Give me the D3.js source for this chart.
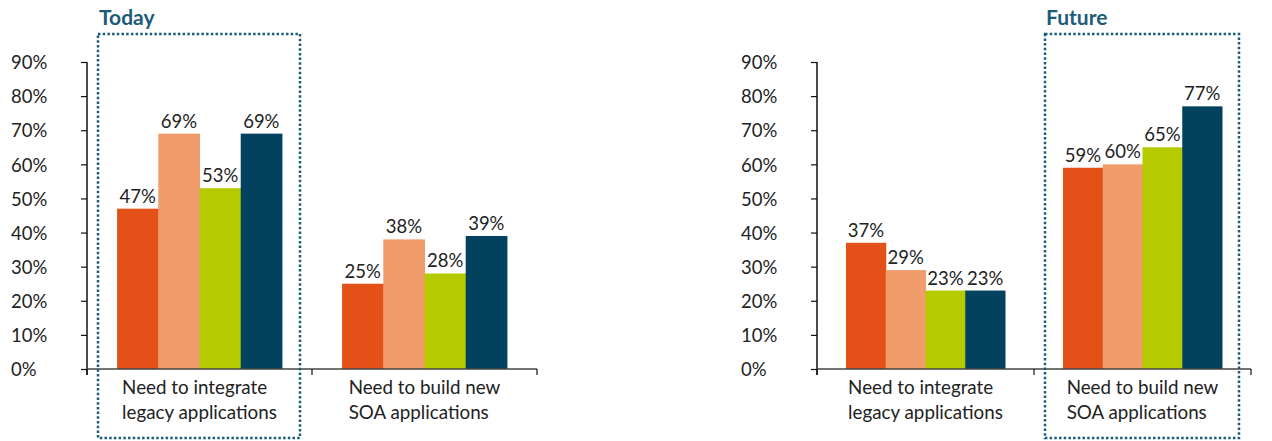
<!DOCTYPE html>
<html>
<head>
<meta charset="utf-8">
<script src="https://cdn.jsdelivr.net/npm/d3@7"></script>
<style>
  body { margin: 0; background: #fff; }
  text { font-family: Lato, "Open Sans", sans-serif; fill: #222; }
</style>
</head>
<body>
<div class="svg-container"></div>
<script>
// chart data
const categories = [['Need to integrate', 'legacy applications'], ['Need to build new', 'SOA applications']];
const series = ['s1', 's2', 's3', 's4'];
const colors = ['#E35118', '#F09C6B', '#B6CA00', '#03425E'];
const todayValues = [[47, 69, 53, 69], [25, 38, 28, 39]];
const futureValues = [[37, 29, 23, 23], [59, 60, 65, 77]];
const yTicks = [0, 10, 20, 30, 40, 50, 60, 70, 80, 90];
const panelTitles = ['Today', 'Future'];

const width = 1272, height = 441;
const svg = d3.select('.svg-container')
    .append('svg')
    .attr('width', width)
    .attr('height', height);

// panel layout: axis x-range + which category is boxed
const panels = [
    { values: todayValues, x0: 87, x1: 537, boxed: 0, title: panelTitles[0] },
    { values: futureValues, x0: 817, x1: 1251, boxed: 1, title: panelTitles[1] }
];

const yScale = d3.scaleLinear().domain([0, 90]).range([369, 62]);

panels.forEach(p => {
    const g = svg.append('g');
    const catIdx = categories.map((c, i) => i);

    const xScale = d3.scaleBand().domain(catIdx).range([p.x0, p.x1]);
    const xSub = d3.scaleBand().domain(series).range([0, xScale.bandwidth()])
        .paddingInner(0).paddingOuter(0.73);

    //y axis
    const yAxis = g.append('g')
        .attr('transform', `translate(${p.x0},0)`)
        .call(d3.axisLeft(yScale).tickValues(yTicks).tickSize(6).tickSizeOuter(0).tickFormat(d => d + '%'));
    yAxis.select('.domain').attr('stroke', '#111').attr('stroke-width', 1.5)
        .attr('d', `M0,${yScale(90)}V${yScale(0) + 6}`);
    yAxis.selectAll('.tick line').attr('stroke', '#111').attr('stroke-width', 1.2);
    yAxis.selectAll('.tick text')
        .attr('x', -76)
        .attr('dy', '0.36em')
        .attr('text-anchor', 'start')
        .attr('font-size', 18.5)
        .attr('font-family', 'Lato, sans-serif')
        .attr('fill', '#222');

    //bars
    const groups = g.selectAll('.grp')
        .data(p.values)
        .join('g')
        .attr('class', 'grp')
        .attr('transform', (d, i) => `translate(${xScale(i)},0)`);

    groups.selectAll('rect')
        .data(d => d)
        .join('rect')
        .attr('x', (d, i) => xSub(series[i]))
        .attr('width', xSub.bandwidth() + 0.5)
        .attr('y', d => yScale(d))
        .attr('height', d => yScale(0) - yScale(d))
        .attr('fill', (d, i) => colors[i]);

    groups.selectAll('.val')
        .data(d => d)
        .join('text')
        .attr('class', 'val')
        .attr('x', (d, i) => xSub(series[i]) + xSub.bandwidth() / 2)
        .attr('y', d => yScale(d) - 6)
        .attr('text-anchor', 'middle')
        .attr('font-size', 18.5)
        .text(d => d + '%');

    //x axis line and ticks
    g.append('line')
        .attr('x1', p.x0).attr('x2', p.x1)
        .attr('y1', yScale(0)).attr('y2', yScale(0))
        .attr('stroke', '#444').attr('stroke-width', 1.6);
    g.selectAll('.xtick')
        .data(catIdx.map(i => xScale(i)).concat([p.x1]))
        .join('line')
        .attr('class', 'xtick')
        .attr('x1', d => d).attr('x2', d => d)
        .attr('y1', yScale(0)).attr('y2', yScale(0) + 6)
        .attr('stroke', '#111').attr('stroke-width', 1.2);

    //category labels: left aligned block centred in band
    categories.forEach((lines, i) => {
        const t = g.append('text')
            .attr('font-size', 18.8);
        lines.forEach((ln, j) => {
            t.append('tspan').attr('y', 394 + j * 25).text(ln);
        });
        const maxW = d3.max(t.selectAll('tspan').nodes(), n => n.getComputedTextLength());
        const left = xScale(i) + xScale.bandwidth() / 2 - maxW / 2;
        t.selectAll('tspan').attr('x', left);
    });

    //dotted highlight box
    const bx0 = xScale(p.boxed) + 11, bx1 = xScale(p.boxed) + xScale.bandwidth() - 12;
    g.append('rect')
        .attr('x', bx0).attr('y', 34)
        .attr('width', bx1 - bx0).attr('height', 404)
        .attr('fill', 'none')
        .attr('stroke', '#1B5C79')
        .attr('stroke-width', 2.5)
        .attr('stroke-dasharray', '2.5,2.2');

    g.append('text')
        .attr('x', bx0 + 1)
        .attr('y', 25)
        .attr('font-size', 21)
        .attr('font-weight', 'bold')
        .style('fill', '#1B5C79')
        .text(p.title);
});
</script>
</body>
</html>
